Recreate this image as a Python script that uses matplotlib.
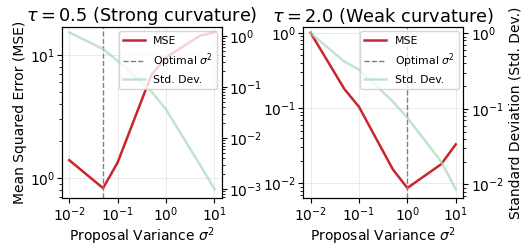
import matplotlib
matplotlib.use("Agg")
import matplotlib.pyplot as plt
from matplotlib.ticker import LogLocator

# Data
sigma2 = [0.01, 0.05, 0.1, 0.5, 1.0, 5.0, 10.0]

mse_strong = [1.40, 0.83, 1.34, 6.9, 9.5, 14.3, 15.2]
std_strong = [1.16, 0.55, 0.32, 0.081, 0.036, 0.003, 0.001]
opt_strong = 0.05

mse_weak = [1.0, 0.179, 0.104, 0.0154, 0.0087, 0.018, 0.033]
std_weak = [1.0, 0.42, 0.33, 0.125, 0.076, 0.020, 0.0086]
opt_weak = 1.0

titles = [r"$\tau = 0.5$ (Strong curvature)", r"$\tau = 2.0$ (Weak curvature)"]

red = "#c9262b"
green = "#a9d8b8"

fig, axes = plt.subplots(1, 2, figsize=(5.25, 2.46), dpi=100)
fig.subplots_adjust(left=0.118, right=0.882, top=0.89, bottom=0.195, wspace=0.51)

panels = [
    (mse_strong, std_strong, opt_strong, (0.69, 16.8), (10**-3.175, 10**0.169)),
    (mse_weak, std_weak, opt_weak, (10**-2.194, 10**0.075), (10**-2.18, 10**0.08)),
]

for k, (ax, (mse, std, opt, ylim1, ylim2)) in enumerate(zip(axes, panels)):
    l1, = ax.plot(sigma2, mse, color=red, lw=1.8, label="MSE")
    l2 = ax.axvline(opt, color="gray", ls="--", lw=1.0, label=r"Optimal $\sigma^2$")
    ax.set_xscale("log")
    ax.set_yscale("log")
    ax.set_ylim(*ylim1)
    ax.set_xlim(10**-2.15, 10**1.15)
    ax.xaxis.set_major_locator(LogLocator(base=10, numticks=10))
    ax.grid(True, color="#e6e6e6", lw=0.6)
    ax.set_xlabel(r"Proposal Variance $\sigma^2$", fontsize=10, labelpad=1)
    ax.set_title(titles[k], fontsize=12.8, pad=4)
    ax.tick_params(labelsize=10, pad=1.5)

    ax2 = ax.twinx()
    l3, = ax2.plot(sigma2, std, color=green, lw=1.8, alpha=0.7, label="Std. Dev.")
    ax2.set_yscale("log")
    ax2.set_ylim(*ylim2)
    ax2.set_xlim(10**-2.15, 10**1.15)
    ax2.yaxis.set_major_locator(LogLocator(base=10, numticks=10))
    ax2.tick_params(labelsize=10, pad=2)
    ax2.legend([l1, l2, l3], ["MSE", r"Optimal $\sigma^2$", "Std. Dev."],
               loc="upper right", fontsize=7.8, borderaxespad=0.4)

    if k == 0:
        ax.set_ylabel("Mean Squared Error (MSE)", fontsize=10, labelpad=2)
    else:
        ax2.set_ylabel("Standard Deviation (Std. Dev.)", fontsize=10, labelpad=3)

fig.savefig("out.png", dpi=100)
